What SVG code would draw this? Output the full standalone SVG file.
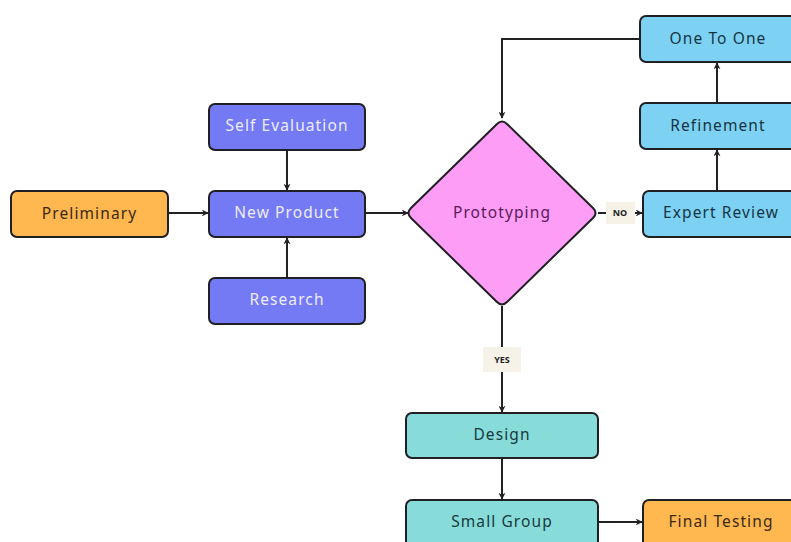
<svg xmlns="http://www.w3.org/2000/svg" width="791" height="542" viewBox="0 0 791 542">
<style>
.box{stroke:#1f1f24;stroke-width:2}
.lbl{font-family:"Noto Sans",sans-serif;font-size:15.5px;font-weight:normal;letter-spacing:1.1px;text-anchor:middle;dominant-baseline:central}
.orange{fill:#FFB74F}
.purple{fill:#7479F4}
.blue{fill:#7DD2F3}
.teal{fill:#87DCDA}
.conn{stroke:#222;stroke-width:2;fill:none}
.tag{fill:#F6F2E8}
.tagt{font-family:"Noto Sans",sans-serif;font-size:9px;font-weight:bold;fill:#222;text-anchor:middle;dominant-baseline:central}
</style>
<defs>
<marker id="arr" viewBox="0 0 10 10" refX="9" refY="5" markerWidth="7" markerHeight="7" orient="auto" markerUnits="userSpaceOnUse">
<path d="M0,0 L10,5 L0,10 L3,5 Z" fill="#222"/>
</marker>
</defs>
<rect width="791" height="542" fill="#ffffff"/>
<g id="connectors">
<line class="conn" x1="168" y1="213" x2="208" y2="213" marker-end="url(#arr)"/>
<line class="conn" x1="287" y1="150" x2="287" y2="190" marker-end="url(#arr)"/>
<line class="conn" x1="287" y1="278" x2="287" y2="238" marker-end="url(#arr)"/>
<line class="conn" x1="365" y1="213" x2="408" y2="213" marker-end="url(#arr)"/>
<line class="conn" x1="598" y1="213" x2="642" y2="213" marker-end="url(#arr)"/>
<line class="conn" x1="717" y1="191" x2="717" y2="150" marker-end="url(#arr)"/>
<line class="conn" x1="717" y1="103" x2="717" y2="63" marker-end="url(#arr)"/>
<polyline class="conn" points="640,39 502,39 502,118" marker-end="url(#arr)"/>
<line class="conn" x1="502" y1="306" x2="502" y2="412" marker-end="url(#arr)"/>
<line class="conn" x1="502" y1="458" x2="502" y2="499" marker-end="url(#arr)"/>
<line class="conn" x1="598" y1="522" x2="642" y2="522" marker-end="url(#arr)"/>
<rect class="tag" x="606" y="202" width="29" height="22"/>
<text class="tagt" x="620" y="212.5">NO</text>
<rect class="tag" x="483" y="347" width="38" height="25"/>
<text class="tagt" x="502" y="359">YES</text>
</g>
<g id="preliminary">
<rect class="box orange" x="11" y="191" width="157" height="46" rx="6"/>
<text class="lbl" x="89.5" y="213" fill="#3a2a12">Preliminary</text>
</g>
<g id="self-evaluation">
<rect class="box purple" x="209" y="104" width="156" height="46" rx="6"/>
<text class="lbl" x="287" y="125" fill="#EDEDFF">Self Evaluation</text>
</g>
<g id="new-product">
<rect class="box purple" x="209" y="191" width="156" height="46" rx="6"/>
<text class="lbl" x="287" y="212" fill="#EDEDFF">New Product</text>
</g>
<g id="research">
<rect class="box purple" x="209" y="278" width="156" height="46" rx="6"/>
<text class="lbl" x="287" y="299" fill="#EDEDFF">Research</text>
</g>
<g id="prototyping">
<path class="box" fill="#FE9DF6" stroke-linejoin="round" d="M497,124 Q502,119 507,124 L593,208 Q598,213 593,218 L507,302 Q502,307 497,302 L411,218 Q406,213 411,208 Z"/>
<text class="lbl" x="502" y="212" fill="#5a1c5a">Prototyping</text>
</g>
<g id="one-to-one">
<rect class="box blue" x="640" y="16" width="160" height="46" rx="6"/>
<text class="lbl" x="718" y="37.5" fill="#163544">One To One</text>
</g>
<g id="refinement">
<rect class="box blue" x="640" y="103" width="160" height="46" rx="6"/>
<text class="lbl" x="718" y="124.5" fill="#163544">Refinement</text>
</g>
<g id="expert-review">
<rect class="box blue" x="643" y="191" width="160" height="46" rx="6"/>
<text class="lbl" x="721" y="212" fill="#163544">Expert Review</text>
</g>
<g id="design">
<rect class="box teal" x="406" y="413" width="192" height="45" rx="6"/>
<text class="lbl" x="502" y="434" fill="#183a3a">Design</text>
</g>
<g id="small-group">
<rect class="box teal" x="406" y="500" width="192" height="50" rx="6"/>
<text class="lbl" x="502" y="521" fill="#183a3a">Small Group</text>
</g>
<g id="final-testing">
<rect class="box orange" x="643" y="500" width="160" height="50" rx="6"/>
<text class="lbl" x="721" y="521" fill="#3a2a12">Final Testing</text>
</g>
</svg>
